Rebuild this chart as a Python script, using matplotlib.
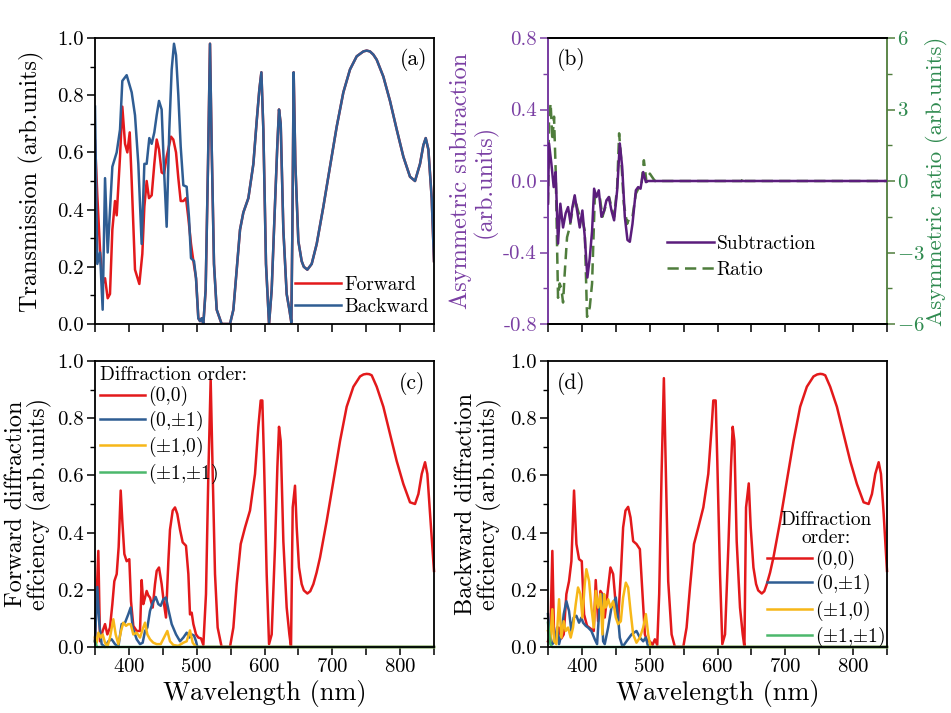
import numpy as np
import matplotlib
matplotlib.use("Agg")
import matplotlib.pyplot as plt
from matplotlib.ticker import MultipleLocator, FormatStrFormatter

plt.rcParams['font.family'] = ['cmr10', 'DejaVu Serif']
plt.rcParams['mathtext.fontset'] = 'cm'
plt.rcParams['axes.formatter.use_mathtext'] = True
plt.rcParams['axes.unicode_minus'] = True

# ---------------- Panel (a): transmission ----------------
wl_fwd_low = [350, 353.4, 357.4, 361.3, 364.8, 368.7, 372.1, 375.6, 379.5, 382.0, 386.9, 390.3,
              394.3, 397.7, 401.2, 404.1, 409.0, 415.4, 419.8, 422.8, 426.2, 429.6, 433.6, 437.5,
              441.0, 444.4, 448.3, 451.8, 455.7, 462.1, 465.5, 469.5, 472.9, 476.4, 480.3, 484.2,
              487.7, 491.6, 495.1]
T_fwd_low = [0.64, 0.45, 0.26, 0.14, 0.16, 0.09, 0.105, 0.33, 0.43, 0.38, 0.585, 0.76,
             0.63, 0.60, 0.67, 0.50, 0.19, 0.14, 0.245, 0.41, 0.50, 0.44, 0.45, 0.56,
             0.645, 0.61, 0.53, 0.525, 0.585, 0.655, 0.645, 0.60, 0.51, 0.43, 0.43, 0.44,
             0.37, 0.28, 0.22]
wl_bwd_low = [350, 353.4, 357.4, 361.3, 364.8, 368.7, 375.6, 382.0, 386.9, 390.3, 396.7, 404.1,
              409.0, 413.9, 418.8, 422.8, 426.2, 430.1, 433.6, 437.5, 441.0, 444.4, 448.3, 451.8,
              455.7, 459.6, 463.1, 466.5, 469.5, 472.9, 476.4, 480.3, 485.2, 488.7, 491.6, 496.0]
T_bwd_low = [0.76, 0.21, 0.25, 0.05, 0.51, 0.25, 0.55, 0.60, 0.68, 0.85, 0.87, 0.81,
             0.73, 0.56, 0.28, 0.56, 0.56, 0.65, 0.63, 0.67, 0.73, 0.78, 0.75, 0.54,
             0.34, 0.68, 0.89, 0.98, 0.94, 0.80, 0.62, 0.485, 0.48, 0.37, 0.23, 0.22]
wl_common = [499.0, 502.4, 504.9, 507.3, 509.8, 513.2, 516.7, 519.6, 522.1, 525.5, 529.5, 536.8,
             549.1, 554.1, 559.0, 563.9, 568.8, 576.2, 583.6, 588.5, 592.4, 595.4, 598.3, 602.2,
             606.7, 610.6, 615.5, 619.0, 621.4, 623.9, 627.8, 632.7, 636.7, 639.6, 641.1, 643.0,
             645.5, 649.9, 654.8, 658.0, 663.2, 669.6, 677.0, 686.8, 696.6, 706.5, 716.3, 726.1,
             736.0, 745.8, 750.7, 755.6, 760.5, 765.5, 775.3, 785.1, 795.0, 804.8, 814.6, 822.0,
             829.4, 834.3, 837.8, 841.7, 846.6, 850.0]
T_common = [0.16, 0.02, 0.01, 0.02, 0.0, 0.12, 0.56, 0.98, 0.62, 0.21, 0.05, 0.0,
            0.0, 0.05, 0.19, 0.33, 0.39, 0.44, 0.56, 0.71, 0.82, 0.88, 0.68, 0.21,
            0.0, 0.12, 0.42, 0.63, 0.75, 0.70, 0.33, 0.105, 0.05, 0.005, 0.33, 0.88,
            0.56, 0.29, 0.22, 0.20, 0.19, 0.21, 0.28, 0.41, 0.55, 0.69, 0.81, 0.89,
            0.936, 0.953, 0.956, 0.953, 0.942, 0.924, 0.865, 0.78, 0.68, 0.585, 0.515, 0.50,
            0.56, 0.625, 0.65, 0.61, 0.44, 0.22]

# ---------------- Panel (b): asymmetric transmission ----------------
wl_sub = [350, 351.5, 354.9, 358.4, 361.3, 364.8, 368.2, 372.2, 376.1, 379.6, 383.0, 386.0,
          389.4, 392.9, 396.8, 400.7, 404.2, 408.1, 411.6, 415.0, 418.0, 421.4, 424.9, 428.8,
          432.8, 436.2, 439.7, 443.6, 447.5, 452.0, 455.9, 459.4, 463.3, 467.2, 470.7, 474.6,
          479.6, 483.0, 486.5, 490.4, 494.4, 497.8, 850]
sub_vals = [-0.127, 0.21, 0.10, -0.034, 0.05, -0.35, -0.127, -0.26, -0.18, -0.146, -0.23, -0.146,
            -0.08, -0.165, -0.26, -0.165, -0.31, -0.54, -0.43, -0.28, -0.043, -0.09, -0.052, -0.20,
            -0.165, -0.108, -0.09, -0.165, -0.22, -0.052, 0.21, 0.08, -0.20, -0.33, -0.34, -0.24,
            -0.052, -0.034, -0.043, 0.05, -0.006, 0.0, 0.0]
wl_ratio = [350, 351.5, 353.9, 356.4, 358.9, 361.3, 364.8, 367.2, 369.7, 372.2, 374.6, 378.1,
            382.0, 386.0, 389.4, 392.9, 396.8, 400.7, 404.2, 407.6, 411.6, 415.0, 419.0, 422.4,
            426.4, 430.3, 436.2, 440.1, 443.6, 447.5, 452.0, 454.9, 458.4, 461.8, 466.7, 470.7,
            474.6, 479.6, 484.5, 487.9, 491.4, 495.3, 500.2, 507.6, 635.7, 638.2, 640.6, 850]
ratio_vals = [-0.95, 2.6, 3.26, 1.7, 2.7, 0.45, -4.9, -4.3, -4.5, -5.1, -3.9, -2.36,
              -1.94, -1.24, -0.67, -1.1, -1.5, -1.66, -2.08, -5.7, -5.3, -4.3, -0.67, -0.53,
              -0.67, -1.5, -0.95, -0.67, -1.1, -1.5, -0.25, 2.0, 0.73, -0.95, -1.8, -1.5,
              -1.5, -0.53, -0.25, -0.11, 0.87, -0.04, 0.31, 0.0, 0.0, 0.17, 0.0, 0.0]

# ---------------- Panel (c): forward diffraction efficiency ----------------
wl_c00 = [350, 354.9, 357.4, 361.3, 364.8, 368.2, 372.1, 375.6, 378.5, 382.0, 384.9, 387.9,
          390.3, 393.3, 396.7, 400.6, 403.1, 406.5, 411.5, 416.4, 418.8, 421.3, 423.8, 426.2,
          428.7, 431.1, 435.1, 438.5, 441.0, 444.4, 448.3, 451.8, 454.7, 458.2, 460.6, 464.6,
          468.0, 471.4, 475.4, 479.3, 484.2, 487.7, 490.1, 492.6, 495.1, 499.0, 502.4, 506.4,
          509.8, 513.7, 517.2, 520.6, 523.6, 527.0, 530.9, 536.8, 549.1, 554.1, 559.0, 564.9,
          571.3, 578.6, 586.0, 590.9, 594.4, 596.8, 599.3, 603.2, 606.7, 610.6, 615.5, 619.0,
          621.4, 623.9, 627.8, 632.7, 636.7, 639.1, 641.6, 645.0, 647.5, 650.9, 654.8, 658.0,
          663.2, 667.5, 672.1, 676.8, 681.9, 691.7, 701.6, 711.4, 721.2, 731.1, 740.9, 746.0,
          750.7, 754.5, 758.1, 765.5, 775.3, 785.1, 795.0, 804.8, 814.6, 822.0, 827.0, 831.9,
          836.8, 840.2, 844.2, 850]
c00 = [0.02, 0.336, 0.02, 0.056, 0.08, 0.044, 0.068, 0.15, 0.23, 0.255, 0.35, 0.547,
       0.44, 0.325, 0.30, 0.307, 0.16, 0.074, 0.056, 0.056, 0.234, 0.15, 0.173, 0.196,
       0.18, 0.173, 0.138, 0.22, 0.266, 0.278, 0.22, 0.15, 0.103, 0.30, 0.41, 0.477,
       0.488, 0.465, 0.41, 0.366, 0.354, 0.255, 0.114, 0.12, 0.08, 0.044, 0.033, 0.03,
       0.007, 0.185, 0.605, 0.935, 0.605, 0.255, 0.068, 0.0, 0.0, 0.068, 0.22, 0.36,
       0.418, 0.477, 0.605, 0.77, 0.862, 0.862, 0.65, 0.255, 0.01, 0.044, 0.35, 0.63,
       0.77, 0.72, 0.37, 0.138, 0.044, 0.0, 0.488, 0.564, 0.418, 0.278, 0.22, 0.198,
       0.187, 0.195, 0.22, 0.26, 0.313, 0.44, 0.58, 0.72, 0.84, 0.91, 0.946, 0.953,
       0.955, 0.954, 0.95, 0.91, 0.84, 0.745, 0.65, 0.57, 0.506, 0.50, 0.535, 0.605,
       0.646, 0.605, 0.465, 0.266]
wl_c01 = [350, 353.4, 356.4, 359.8, 364.8, 369.7, 374.6, 379.5, 384.4, 389.3, 394.3, 399.2,
          402.6, 405.6, 411.5, 416.4, 420.3, 423.8, 427.2, 431.1, 435.1, 439.5, 443.4, 446.9,
          450.8, 454.7, 458.7, 463.1, 469.5, 475.4, 480.3, 485.2, 489.2, 492.6, 496.0, 499.0,
          501.0, 850]
c01 = [0.02, 0.21, 0.08, 0.01, 0.0, 0.02, 0.027, 0.01, 0.0, 0.08, 0.085, 0.115,
       0.138, 0.068, 0.027, 0.01, 0.015, 0.056, 0.068, 0.126, 0.155, 0.175, 0.15, 0.144,
       0.167, 0.173, 0.126, 0.08, 0.044, 0.02, 0.033, 0.05, 0.033, 0.044, 0.04, 0.02,
       0.0, 0.0]
wl_c10 = [350, 352.5, 354.9, 358.4, 361.3, 364.8, 368.2, 372.1, 377.0, 380.5, 384.4, 388.4,
          391.8, 395.7, 399.2, 402.6, 406.5, 411.5, 416.4, 420.3, 423.8, 427.2, 431.1, 436.0,
          441.0, 446.9, 451.8, 456.7, 460.6, 465.5, 472.9, 480.3, 485.2, 490.1, 494.1, 499.0,
          850]
c10 = [0.033, 0.015, 0.05, 0.033, 0.044, 0.015, 0.0, 0.033, 0.097, 0.044, 0.01, 0.056,
       0.085, 0.074, 0.08, 0.08, 0.044, 0.05, 0.033, 0.062, 0.085, 0.044, 0.027, 0.015,
       0.01, 0.01, 0.033, 0.056, 0.02, 0.007, 0.004, 0.015, 0.02, 0.058, 0.015, 0.0,
       0.0]
wl_c11 = [350, 353.0, 850]
c11 = [0.02, 0.0, 0.0]

# ---------------- Panel (d): backward diffraction efficiency ----------------
wl_d00 = [350, 353.4, 356.4, 358.9, 362.3, 365.8, 369.7, 373.2, 377.1, 381.0, 384.5, 388.4,
          391.9, 395.8, 399.8, 403.2, 407.6, 414.0, 417.5, 420.4, 423.9, 427.3, 430.3, 433.7,
          438.7, 442.1, 446.1, 449.5, 453.4, 457.4, 460.8, 464.3, 468.2, 471.7, 475.6, 480.5,
          485.5, 489.4, 492.9, 496.3, 500.2, 504.2, 507.6, 511.1, 514.0, 517.5, 520.9, 523.9,
          527.3, 532.3, 537.2, 549.5, 554.4, 559.4, 565.3, 571.7, 579.1, 586.4, 591.4, 593.8,
          597.3, 599.7, 603.7, 607.1, 611.1, 616.0, 619.9, 622.4, 624.9, 628.3, 633.2, 637.2,
          639.7, 642.1, 646.1, 649.0, 653.0, 656.9, 660.0, 665.3, 669.0, 672.7, 677.5, 682.5,
          692.4, 702.2, 712.1, 721.9, 731.8, 741.6, 747.0, 751.5, 755.0, 758.9, 766.2, 776.1,
          785.9, 795.8, 805.6, 815.5, 822.9, 827.8, 832.7, 837.7, 841.1, 845.1, 850]
d00 = [0.02, 0.044, 0.336, 0.044, 0.03, 0.068, 0.03, 0.044, 0.185, 0.23, 0.30, 0.547,
       0.36, 0.307, 0.30, 0.114, 0.074, 0.062, 0.056, 0.234, 0.09, 0.196, 0.185, 0.103,
       0.208, 0.278, 0.255, 0.16, 0.09, 0.255, 0.418, 0.477, 0.49, 0.453, 0.37, 0.36,
       0.342, 0.185, 0.044, 0.02, 0.02, 0.007, 0.027, 0.007, 0.185, 0.605, 0.94, 0.605,
       0.23, 0.044, 0.0, 0.0, 0.068, 0.208, 0.36, 0.418, 0.488, 0.605, 0.77, 0.862,
       0.862, 0.65, 0.255, 0.01, 0.044, 0.35, 0.63, 0.77, 0.72, 0.37, 0.138, 0.044,
       0.0, 0.488, 0.572, 0.418, 0.278, 0.22, 0.198, 0.187, 0.195, 0.22, 0.26, 0.313,
       0.44, 0.58, 0.72, 0.84, 0.91, 0.946, 0.953, 0.955, 0.954, 0.95, 0.91, 0.84,
       0.745, 0.65, 0.57, 0.506, 0.50, 0.535, 0.605, 0.646, 0.605, 0.465, 0.266]
wl_d01 = [350, 352.5, 356.4, 359.9, 363.3, 366.3, 369.7, 373.2, 377.1, 381.0, 384.5, 387.9,
          391.9, 395.8, 399.3, 401.7, 405.7, 409.1, 414.0, 419.0, 422.4, 426.4, 428.8, 431.3,
          433.7, 438.7, 443.6, 450.0, 453.4, 455.9, 459.9, 465.8, 473.2, 480.5, 485.5, 490.4,
          494.3, 497.8, 850]
d01 = [0.115, 0.044, 0.01, 0.02, 0.068, 0.01, 0.044, 0.115, 0.16, 0.126, 0.056, 0.103,
       0.109, 0.085, 0.103, 0.085, 0.074, 0.068, 0.056, 0.027, 0.01, 0.16, 0.185, 0.02,
       0.01, 0.068, 0.138, 0.173, 0.103, 0.033, 0.0, 0.02, 0.044, 0.056, 0.033, 0.02,
       0.033, 0.0, 0.0]
wl_d10 = [350, 353.4, 356.4, 358.9, 362.3, 366.3, 369.7, 373.2, 376.1, 379.6, 383.5, 386.9,
          390.9, 394.3, 397.8, 400.7, 404.2, 406.6, 410.6, 414.0, 417.5, 420.4, 423.9, 427.3,
          430.3, 432.8, 435.2, 438.7, 442.1, 446.1, 450.0, 453.4, 457.4, 460.8, 464.8, 468.2,
          471.7, 475.6, 480.5, 485.5, 490.4, 494.3, 497.8, 501.2, 850]
d10 = [0.056, 0.02, 0.132, 0.02, 0.01, 0.167, 0.033, 0.09, 0.056, 0.068, 0.033, 0.068,
       0.15, 0.208, 0.185, 0.103, 0.22, 0.272, 0.23, 0.138, 0.068, 0.196, 0.138, 0.185,
       0.044, 0.185, 0.138, 0.167, 0.138, 0.16, 0.103, 0.08, 0.09, 0.173, 0.225, 0.208,
       0.126, 0.044, 0.015, 0.033, 0.068, 0.115, 0.044, 0.0, 0.0]
wl_d11 = [350, 353.4, 356.0, 850]
d11 = [0.085, 0.01, 0.0, 0.0]

order_labels = ['(0,0)', r'(0,$\pm$1)', r'($\pm$1,0)', r'($\pm$1,$\pm$1)']

# ---------------- style ----------------
RED = '#e3191b'
BLUE = '#2f5d93'
YEL = '#f7b718'
GRN = '#4cb86c'
PURPLE_LINE = '#5b1d7c'
PURPLE_AX = '#7a3fa3'
GREEN_DASH = '#4f7d3c'
GREEN_TXT = '#2f8a4f'

TICK_FS = 15
LAB_FS = 17.5
LEG_FS = 14
LW = 1.8

fig = plt.figure(figsize=(9.51, 7.13), dpi=100)
W, H = 951, 713

def add_ax(l, t, r, b):
    return fig.add_axes([l / W, 1 - b / H, (r - l) / W, (b - t) / H])

ax_a = add_ax(95, 38, 434, 324)
ax_b = add_ax(548, 38, 887, 324)
ax_c = add_ax(95, 361, 434, 647)
ax_d = add_ax(548, 361, 887, 647)

def style(ax, ylim, ymaj, ymin, xlabels=True, fmt='%.1f'):
    ax.set_xlim(350, 850)
    ax.set_ylim(*ylim)
    ax.xaxis.set_major_locator(MultipleLocator(100))
    ax.xaxis.set_minor_locator(MultipleLocator(50))
    ax.yaxis.set_major_locator(MultipleLocator(ymaj))
    ax.yaxis.set_minor_locator(MultipleLocator(ymin))
    ax.yaxis.set_major_formatter(FormatStrFormatter(fmt))
    ax.tick_params(axis='both', which='major', direction='out', length=6, width=1.1,
                   labelsize=TICK_FS, pad=2)
    ax.tick_params(axis='y', which='minor', direction='out', length=3.5, width=1.0)
    ax.tick_params(axis='x', which='minor', direction='out', length=6, width=1.1)
    if not xlabels:
        ax.tick_params(axis='x', labelbottom=False)
    for s in ax.spines.values():
        s.set_linewidth(1.3)

# (a)
style(ax_a, (0, 1.0), 0.2, 0.1, xlabels=False)
wl_f = wl_fwd_low + wl_common
wl_bk = wl_bwd_low + wl_common
ax_a.plot(wl_f, T_fwd_low + T_common, color=RED, lw=LW, label='Forward')
ax_a.plot(wl_bk, T_bwd_low + T_common, color=BLUE, lw=LW, label='Backward')
ax_a.set_ylabel('Transmission (arb.units)', fontsize=LAB_FS)
ax_a.yaxis.set_label_coords(-0.150, 0.5)
ax_a.legend(loc='lower right', bbox_to_anchor=(1.03, -0.025), frameon=False, fontsize=LEG_FS,
            handlelength=2.4, handletextpad=0.15, labelspacing=0.2, borderpad=0.3)
ax_a.text(0.979, 0.965, '(a)', transform=ax_a.transAxes, ha='right', va='top', fontsize=15.5)

# (b)
style(ax_b, (-0.8, 0.8), 0.4, 0.2, xlabels=False)
ax_b2 = ax_b.twinx()
ax_b2.set_ylim(-6, 6)
ax_b2.yaxis.set_major_locator(MultipleLocator(3))
ax_b2.yaxis.set_minor_locator(MultipleLocator(1.5))
ax_b2.tick_params(axis='y', which='major', direction='out', length=6, width=1.1,
                  labelsize=TICK_FS, colors=GREEN_DASH, labelcolor=GREEN_TXT, pad=1)
ax_b2.tick_params(axis='y', which='minor', direction='out', length=3.5, width=1.0, colors=GREEN_DASH)
for s in ax_b2.spines.values():
    s.set_linewidth(1.3)
ax_b2.spines['right'].set_color(GREEN_DASH)
ax_b2.spines['left'].set_color(PURPLE_AX)
ax_b.spines['left'].set_color(PURPLE_AX)
ax_b.spines['right'].set_visible(False)
ax_b.tick_params(axis='y', which='both', colors=PURPLE_AX, labelcolor=PURPLE_AX)
l_sub, = ax_b.plot(wl_sub, sub_vals, color=PURPLE_LINE, lw=LW, label='Subtraction', zorder=3)
l_rat, = ax_b2.plot(wl_ratio, ratio_vals, color=GREEN_DASH, lw=LW, ls=(0, (4.5, 2.5)),
                    label='Ratio', zorder=2)
ax_b.set_zorder(ax_b2.get_zorder() + 1)
ax_b.patch.set_visible(False)
ax_b.set_ylabel('Asymmetric subtraction\n(arb.units)', fontsize=LAB_FS, color=PURPLE_AX,
                linespacing=1.0)
ax_b.yaxis.set_label_coords(-0.150, 0.5)
ax_b2.set_ylabel('Asymmetric ratio (arb.units)', fontsize=16.5, color=GREEN_TXT)
ax_b2.yaxis.set_label_coords(1.113, 0.5)
ax_b.legend(handles=[l_sub, l_rat], loc='center left', bbox_to_anchor=(0.30, 0.235),
            frameon=False, fontsize=LEG_FS, handlelength=2.4, handletextpad=0.15,
            labelspacing=0.4)
ax_b.text(0.027, 0.965, '(b)', transform=ax_b.transAxes, ha='left', va='top', fontsize=15.5)

# (c)
style(ax_c, (0, 1.0), 0.2, 0.1)
series_c = [(wl_c00, c00, RED), (wl_c01, c01, BLUE), (wl_c10, c10, YEL), (wl_c11, c11, GRN)]
for (x, y, c), lab in zip(series_c, order_labels):
    ax_c.plot(x, y, color=c, lw=LW, label=lab, clip_on=False)
ax_c.set_ylabel('Forward diffraction\neffciency (arb.units)', fontsize=LAB_FS, linespacing=1.0)
ax_c.yaxis.set_label_coords(-0.127, 0.5)
ax_c.set_xlabel('Wavelength (nm)', fontsize=19, labelpad=3)
ax_c.legend(loc='upper left', bbox_to_anchor=(-0.025, 1.03), frameon=False,
            fontsize=LEG_FS, title='Diffraction order:', title_fontsize=LEG_FS,
            alignment='left', handlelength=2.3, handletextpad=0.15, labelspacing=0.12,
            borderpad=0.2)
ax_c.text(0.975, 0.96, '(c)', transform=ax_c.transAxes, ha='right', va='top', fontsize=15.5)

# (d)
style(ax_d, (0, 1.0), 0.2, 0.1)
series_d = [(wl_d00, d00, RED), (wl_d01, d01, BLUE), (wl_d10, d10, YEL), (wl_d11, d11, GRN)]
for (x, y, c), lab in zip(series_d, order_labels):
    ax_d.plot(x, y, color=c, lw=LW, label=lab, clip_on=False)
ax_d.set_ylabel('Backward diffraction\neffciency (arb.units)', fontsize=LAB_FS, linespacing=1.0)
ax_d.yaxis.set_label_coords(-0.136, 0.5)
ax_d.set_xlabel('Wavelength (nm)', fontsize=19, labelpad=3)
leg_d = ax_d.legend(loc='lower right', bbox_to_anchor=(1.035, -0.055), frameon=False,
                    fontsize=LEG_FS, title='Diffraction\norder:', title_fontsize=LEG_FS,
                    handlelength=2.3, handletextpad=0.15, labelspacing=0.12, borderpad=0.2)
leg_d.get_title().set_multialignment('center')
leg_d.get_title().set_linespacing(1.0)
ax_d.text(0.027, 0.96, '(d)', transform=ax_d.transAxes, ha='left', va='top', fontsize=15.5)

fig.savefig('out.png', dpi=100)
